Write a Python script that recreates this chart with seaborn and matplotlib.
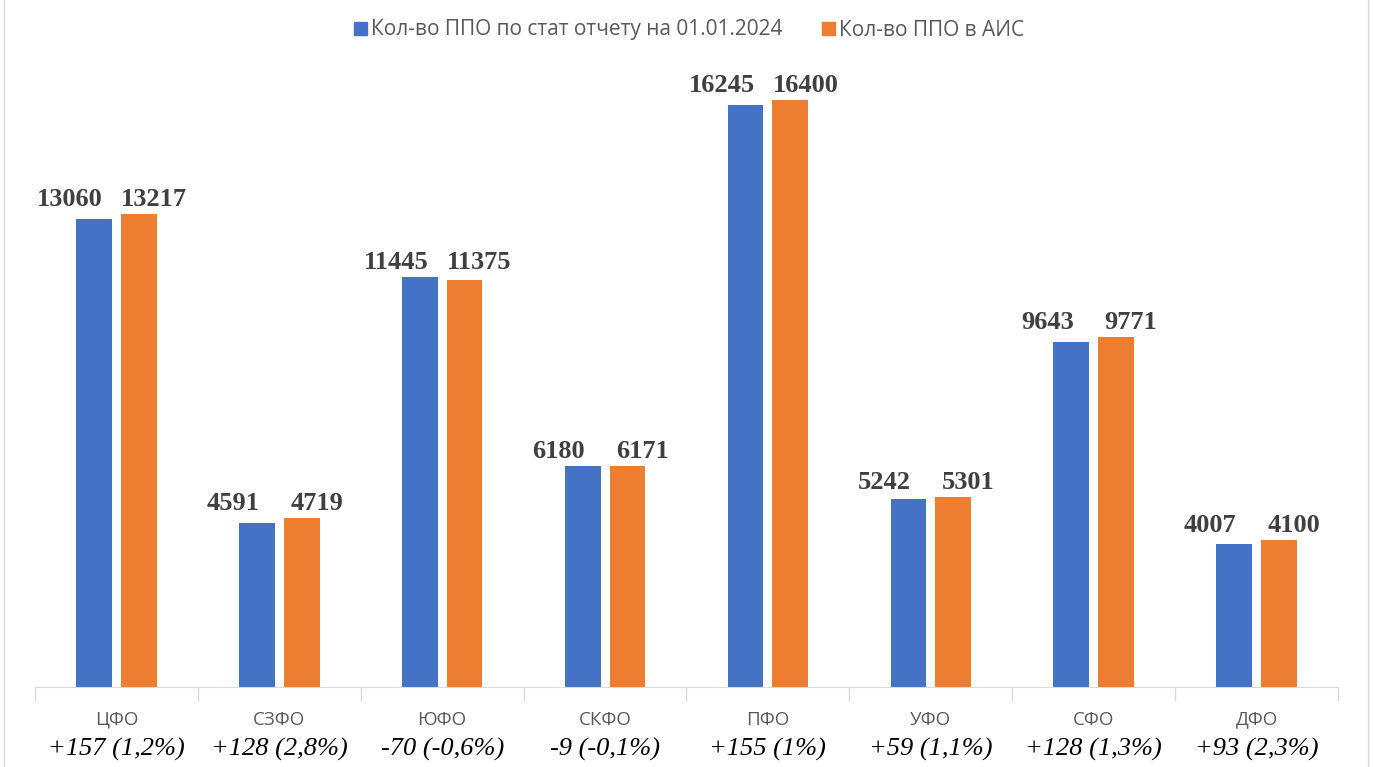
import matplotlib.pyplot as plt
import matplotlib.patches as mpatches
import pandas as pd
import seaborn as sns

# данные по округам
okruga = ['ЦФО', 'СЗФО', 'ЮФО', 'СКФО', 'ПФО', 'УФО', 'СФО', 'ДФО']
stat_otchet = [13060, 4591, 11445, 6180, 16245, 5242, 9643, 4007]
ais = [13217, 4719, 11375, 6171, 16400, 5301, 9771, 4100]
raznica = ['+157 (1,2%)', '+128 (2,8%)', '-70 (-0,6%)', '-9 (-0,1%)',
           '+155 (1%)', '+59 (1,1%)', '+128 (1,3%)', '+93 (2,3%)']

seriya1 = 'Кол-во ППО по стат отчету на 01.01.2024'
seriya2 = 'Кол-во ППО в АИС'

df = pd.DataFrame({'okrug': okruga * 2,
                   'value': stat_otchet + ais,
                   'seriya': [seriya1] * len(okruga) + [seriya2] * len(okruga)})

sns.set_style('white')
plt.rcParams['font.family'] = ['Open Sans', 'DejaVu Sans']

fig = plt.figure(figsize=(13.73, 7.67), dpi=100)
ax = fig.add_axes([35 / 1373, 80 / 767, (1338 - 35) / 1373, 627 / 767])

sns.barplot(data=df, x='okrug', y='value', hue='seriya', ax=ax,
            palette=['#4472C4', '#ED7D31'], width=0.55, gap=0.2,
            saturation=1, linewidth=0, legend=False)

ax.set_ylim(0, 17514)
ax.set_xlim(-0.5, len(okruga) - 0.5)

# подписи значений (над более высоким столбцом пары, раздвинуты)
bars1 = ax.containers[0]
bars2 = ax.containers[1]
for b1, b2, v1, v2 in zip(bars1, bars2, stat_otchet, ais):
    top = max(v1, v2)
    for b, v, dx in [(b1, v1, -24), (b2, v2, 15)]:
        ax.annotate(str(v), (b.get_x() + b.get_width() / 2, top),
                    xytext=(dx, 3), textcoords='offset pixels',
                    ha='center', va='bottom', fontsize=19, fontweight='bold',
                    family='Liberation Serif', color='#404040')

# оси
for s in ['top', 'right', 'left']:
    ax.spines[s].set_visible(False)
ax.spines['bottom'].set_color('#d9d9d9')
ax.set_yticks([])
ax.set_xlabel('')
ax.set_ylabel('')
ax.set_xticks(range(len(okruga)))
ax.set_xticklabels(okruga, fontsize=13.5, color='#595959')
ax.tick_params(axis='x', which='major', length=0, pad=17)
ax.set_xticks([i - 0.5 for i in range(len(okruga) + 1)], minor=True)
ax.tick_params(axis='x', which='minor', bottom=True, length=10,
               color='#d9d9d9', width=1)

# вторая строка подписи
for i, t in enumerate(raznica):
    ax.text(i, -0.1, t, transform=ax.get_xaxis_transform(), ha='center',
            va='center', fontsize=19, style='italic',
            family='Liberation Serif', color='black')

# легенда
h1 = mpatches.Patch(color='#4472C4', label=seriya1)
h2 = mpatches.Patch(color='#ED7D31', label=seriya2)
fig.legend(handles=[h1, h2], loc='center', bbox_to_anchor=(0.502, 1 - 30 / 767),
           ncol=2, frameon=False, fontsize=15, handlelength=0.6,
           handleheight=0.6, handletextpad=0.2, columnspacing=1.9,
           labelcolor='#595959')

# рамка
fig.patches.append(mpatches.Rectangle((4 / 1373, -0.01), 1 - 9 / 1373, 1.02,
                                      transform=fig.transFigure, fill=False,
                                      edgecolor='#d9d9d9', linewidth=1))

fig.savefig('out.png', dpi=100)
